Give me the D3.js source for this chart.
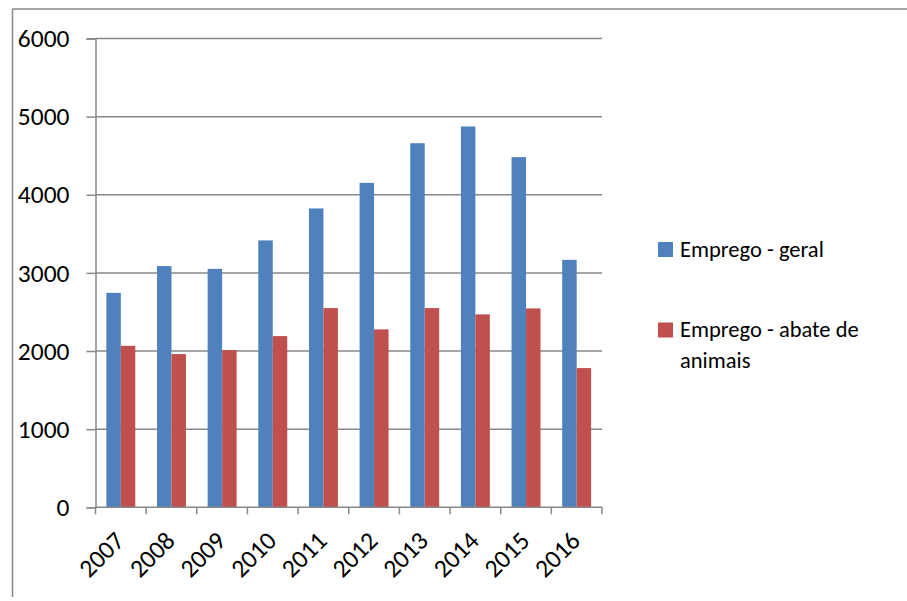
<!DOCTYPE html>
<html>
<head>
<meta charset="utf-8">
<script src="https://cdn.jsdelivr.net/npm/d3@7"></script>
<style>
  html, body { margin: 0; padding: 0; background: #fff; }
  svg { display: block; }
  text { font-family: Carlito, Lato, "Open Sans", sans-serif; fill: #000; }
</style>
</head>
<body>
<svg id="chart" width="907" height="601"></svg>
<script>
// Employment series, 2007–2016
const years = ["2007", "2008", "2009", "2010", "2011", "2012", "2013", "2014", "2015", "2016"];
const empregoGeral = [2745, 3087, 3052, 3416, 3825, 4152, 4660, 4874, 4482, 3167];
const empregoAbate = [2067, 1961, 2012, 2191, 2550, 2277, 2550, 2469, 2546, 1782];
const yTicks = [0, 1000, 2000, 3000, 4000, 5000, 6000];
const seriesNames = ["Emprego - geral", "Emprego - abate de animais"];
const seriesColors = ["#4F81BD", "#C0504D"];

const svg = d3.select("#chart");
const plot = { left: 95.5, right: 602, top: 38.5, bottom: 507.3 };
const gridColor = "#888888";
const numFont = 25.5;
const legendFont = 22.5;

// Outer chart frame (left and top edges visible)
svg.append("line").attr("x1", 12.5).attr("x2", 12.5).attr("y1", 9).attr("y2", 597)
  .attr("stroke", gridColor).attr("stroke-width", 1.5);
svg.append("line").attr("x1", 12.5).attr("x2", 907).attr("y1", 9).attr("y2", 9)
  .attr("stroke", gridColor).attr("stroke-width", 1.5);

const x = d3.scaleBand().domain(years).range([plot.left, plot.right]).paddingInner(0).paddingOuter(0);
const y = d3.scaleLinear().domain([0, 6000]).range([plot.bottom, plot.top]);

// Bars within each category: gap width 150% of a single bar
const barW = x.bandwidth() / 3.5;
const x1 = d3.scaleBand().domain([0, 1]).range([0, barW * 2]).padding(0);

// Horizontal gridlines
svg.append("g").selectAll("line").data(yTicks.filter(d => d > 0)).join("line")
  .attr("x1", plot.left).attr("x2", plot.right)
  .attr("y1", d => y(d)).attr("y2", d => y(d))
  .attr("stroke", gridColor).attr("stroke-width", 1.5);

// Bars
const seriesData = [empregoGeral, empregoAbate];
const groups = svg.append("g").selectAll("g").data(years).join("g")
  .attr("transform", d => `translate(${x(d) + (x.bandwidth() - barW * 2) / 2},0)`);
groups.selectAll("rect").data((d, i) => seriesData.map((s, k) => ({ k, v: s[i] }))).join("rect")
  .attr("x", d => x1(d.k))
  .attr("width", x1.bandwidth())
  .attr("y", d => y(d.v))
  .attr("height", d => y(0) - y(d.v))
  .attr("fill", d => seriesColors[d.k]);

// Y axis
const yAxis = d3.axisLeft(y).tickValues(yTicks).tickSize(9).tickPadding(17).tickFormat(d3.format("d"));
const gy = svg.append("g").attr("transform", `translate(${plot.left},0)`).call(yAxis);
gy.select(".domain").attr("stroke", gridColor).attr("stroke-width", 1.5);
gy.selectAll(".tick line").attr("stroke", gridColor).attr("stroke-width", 1.5);
gy.selectAll(".tick text").attr("font-size", numFont).attr("font-family", null).attr("fill", "#000");

// X axis: baseline with ticks at category boundaries
svg.append("line").attr("x1", plot.left).attr("x2", plot.right)
  .attr("y1", plot.bottom).attr("y2", plot.bottom)
  .attr("stroke", gridColor).attr("stroke-width", 1.5);
const boundaries = years.map(d => x(d)).concat([x(years[years.length - 1]) + x.bandwidth()]);
svg.append("g").selectAll("line").data(boundaries).join("line")
  .attr("x1", d => d).attr("x2", d => d)
  .attr("y1", plot.bottom).attr("y2", plot.bottom + 7)
  .attr("stroke", gridColor).attr("stroke-width", 1.5);

// Rotated year labels
svg.append("g").selectAll("text").data(years).join("text")
  .attr("transform", d => `translate(${x(d) + x.bandwidth() / 2 + 5},${plot.bottom + 35}) rotate(-45)`)
  .attr("text-anchor", "end")
  .attr("font-size", numFont)
  .text(d => d);

// Legend
const legend = svg.append("g");
const legendItems = [
  { name: seriesNames[0], lines: ["Emprego - geral"], top: 242, baseline: 257 },
  { name: seriesNames[1], lines: ["Emprego - abate de", "animais"], top: 322.5, baseline: 337 }
];
legendItems.forEach((it, i) => {
  legend.append("rect").attr("x", 658).attr("y", it.top).attr("width", 15).attr("height", 15)
    .attr("fill", seriesColors[i]);
  const t = legend.append("text").attr("x", 680).attr("y", it.baseline).attr("font-size", legendFont);
  it.lines.forEach((ln, j) => {
    t.append("tspan").attr("x", 680).attr("dy", j === 0 ? 0 : 31).text(ln);
  });
});
</script>
</body>
</html>
